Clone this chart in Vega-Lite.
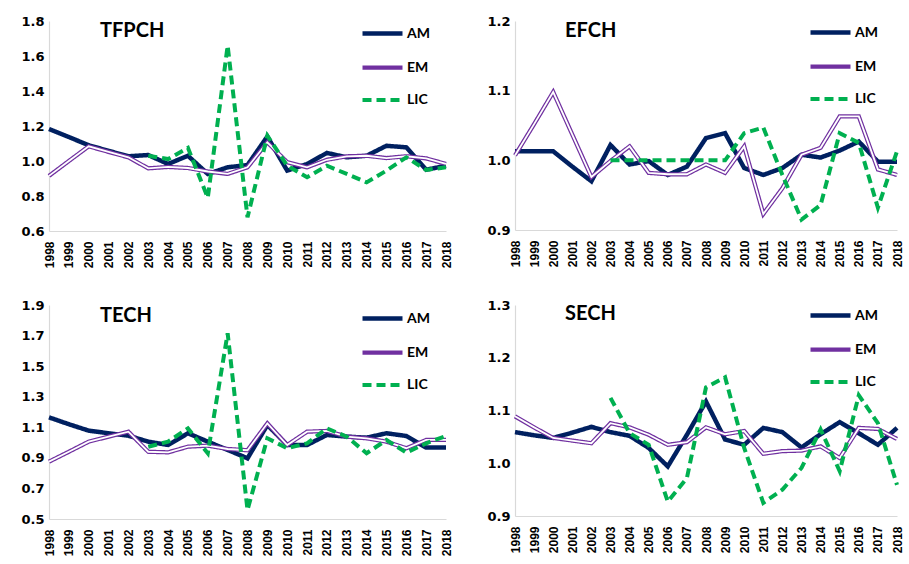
{
  "$schema": "https://vega.github.io/schema/vega-lite/v6.json",
  "padding": {"left": 20, "top": 10, "right": 5, "bottom": 5},
  "background": "white",
  "datasets": {
    "tfpch": [
      {"year": "1998", "AM": 1.183, "EM": 0.915, "LIC": null},
      {"year": "1999", "AM": 1.137, "EM": 1.0, "LIC": null},
      {"year": "2000", "AM": 1.09, "EM": 1.084, "LIC": null},
      {"year": "2001", "AM": 1.058, "EM": 1.052, "LIC": null},
      {"year": "2002", "AM": 1.027, "EM": 1.021, "LIC": null},
      {"year": "2003", "AM": 1.034, "EM": 0.958, "LIC": 1.03},
      {"year": "2004", "AM": 0.983, "EM": 0.966, "LIC": 1.011},
      {"year": "2005", "AM": 1.03, "EM": 0.96, "LIC": 1.075},
      {"year": "2006", "AM": 0.926, "EM": 0.94, "LIC": 0.79},
      {"year": "2007", "AM": 0.964, "EM": 0.926, "LIC": 1.659},
      {"year": "2008", "AM": 0.977, "EM": 0.964, "LIC": 0.678},
      {"year": "2009", "AM": 1.14, "EM": 1.107, "LIC": 1.145},
      {"year": "2010", "AM": 0.945, "EM": 0.993, "LIC": 0.973},
      {"year": "2011", "AM": 0.983, "EM": 0.964, "LIC": 0.907},
      {"year": "2012", "AM": 1.046, "EM": 1.007, "LIC": 0.973},
      {"year": "2013", "AM": 1.021, "EM": 1.027, "LIC": 0.926},
      {"year": "2014", "AM": 1.03, "EM": 1.03, "LIC": 0.878},
      {"year": "2015", "AM": 1.087, "EM": 1.017, "LIC": 0.945},
      {"year": "2016", "AM": 1.078, "EM": 1.027, "LIC": 1.021},
      {"year": "2017", "AM": 0.95, "EM": 1.015, "LIC": 0.949},
      {"year": "2018", "AM": 0.973, "EM": 0.983, "LIC": 0.964}
    ],
    "efch": [
      {"year": "1998", "AM": 1.013, "EM": 1.007, "LIC": null},
      {"year": "1999", "AM": 1.013, "EM": 1.052, "LIC": null},
      {"year": "2000", "AM": 1.013, "EM": 1.098, "LIC": null},
      {"year": "2001", "AM": 0.991, "EM": 1.037, "LIC": null},
      {"year": "2002", "AM": 0.97, "EM": 0.976, "LIC": null},
      {"year": "2003", "AM": 1.022, "EM": 0.999, "LIC": 1.0},
      {"year": "2004", "AM": 0.994, "EM": 1.02, "LIC": 1.0},
      {"year": "2005", "AM": 0.999, "EM": 0.982, "LIC": 1.0},
      {"year": "2006", "AM": 0.979, "EM": 0.98, "LIC": 1.0},
      {"year": "2007", "AM": 0.991, "EM": 0.98, "LIC": 1.0},
      {"year": "2008", "AM": 1.032, "EM": 0.994, "LIC": 1.0},
      {"year": "2009", "AM": 1.039, "EM": 0.982, "LIC": 1.0},
      {"year": "2010", "AM": 0.989, "EM": 1.02, "LIC": 1.039},
      {"year": "2011", "AM": 0.979, "EM": 0.923, "LIC": 1.047},
      {"year": "2012", "AM": 0.989, "EM": 0.96, "LIC": 0.979},
      {"year": "2013", "AM": 1.008, "EM": 1.008, "LIC": 0.915},
      {"year": "2014", "AM": 1.004, "EM": 1.018, "LIC": 0.936},
      {"year": "2015", "AM": 1.014, "EM": 1.063, "LIC": 1.039},
      {"year": "2016", "AM": 1.027, "EM": 1.063, "LIC": 1.025},
      {"year": "2017", "AM": 0.998, "EM": 0.987, "LIC": 0.932},
      {"year": "2018", "AM": 0.998, "EM": 0.979, "LIC": 1.013}
    ],
    "tech": [
      {"year": "1998", "AM": 1.165, "EM": 0.875, "LIC": null},
      {"year": "1999", "AM": 1.12, "EM": 0.94, "LIC": null},
      {"year": "2000", "AM": 1.078, "EM": 1.006, "LIC": null},
      {"year": "2001", "AM": 1.061, "EM": 1.039, "LIC": null},
      {"year": "2002", "AM": 1.045, "EM": 1.071, "LIC": null},
      {"year": "2003", "AM": 1.006, "EM": 0.94, "LIC": 0.973},
      {"year": "2004", "AM": 0.984, "EM": 0.936, "LIC": 1.006},
      {"year": "2005", "AM": 1.061, "EM": 0.973, "LIC": 1.093},
      {"year": "2006", "AM": 1.006, "EM": 0.98, "LIC": 0.93},
      {"year": "2007", "AM": 0.952, "EM": 0.958, "LIC": 1.715},
      {"year": "2008", "AM": 0.897, "EM": 0.95, "LIC": 0.559},
      {"year": "2009", "AM": 1.115, "EM": 1.126, "LIC": 1.028},
      {"year": "2010", "AM": 0.984, "EM": 0.984, "LIC": 0.963},
      {"year": "2011", "AM": 0.984, "EM": 1.071, "LIC": 0.995},
      {"year": "2012", "AM": 1.05, "EM": 1.076, "LIC": 1.093},
      {"year": "2013", "AM": 1.039, "EM": 1.039, "LIC": 1.039},
      {"year": "2014", "AM": 1.032, "EM": 1.028, "LIC": 0.93},
      {"year": "2015", "AM": 1.061, "EM": 1.006, "LIC": 1.017},
      {"year": "2016", "AM": 1.043, "EM": 0.963, "LIC": 0.934},
      {"year": "2017", "AM": 0.967, "EM": 1.017, "LIC": 0.995},
      {"year": "2018", "AM": 0.967, "EM": 1.017, "LIC": 1.043}
    ],
    "sech": [
      {"year": "1998", "AM": 1.059, "EM": 1.089, "LIC": null},
      {"year": "1999", "AM": 1.053, "EM": 1.068, "LIC": null},
      {"year": "2000", "AM": 1.048, "EM": 1.048, "LIC": null},
      {"year": "2001", "AM": 1.058, "EM": 1.043, "LIC": null},
      {"year": "2002", "AM": 1.069, "EM": 1.038, "LIC": null},
      {"year": "2003", "AM": 1.059, "EM": 1.076, "LIC": 1.124},
      {"year": "2004", "AM": 1.052, "EM": 1.068, "LIC": 1.057},
      {"year": "2005", "AM": 1.029, "EM": 1.054, "LIC": 1.035},
      {"year": "2006", "AM": 0.994, "EM": 1.035, "LIC": 0.927},
      {"year": "2007", "AM": 1.054, "EM": 1.04, "LIC": 0.972},
      {"year": "2008", "AM": 1.117, "EM": 1.068, "LIC": 1.144},
      {"year": "2009", "AM": 1.045, "EM": 1.055, "LIC": 1.163},
      {"year": "2010", "AM": 1.035, "EM": 1.061, "LIC": 1.029},
      {"year": "2011", "AM": 1.067, "EM": 1.018, "LIC": 0.925},
      {"year": "2012", "AM": 1.059, "EM": 1.023, "LIC": 0.95},
      {"year": "2013", "AM": 1.03, "EM": 1.024, "LIC": 0.991},
      {"year": "2014", "AM": 1.055, "EM": 1.032, "LIC": 1.064},
      {"year": "2015", "AM": 1.078, "EM": 1.01, "LIC": 0.985},
      {"year": "2016", "AM": 1.057, "EM": 1.067, "LIC": 1.129},
      {"year": "2017", "AM": 1.035, "EM": 1.065, "LIC": 1.076},
      {"year": "2018", "AM": 1.067, "EM": 1.046, "LIC": 0.959}
    ]
  },
  "columns": 2,
  "spacing": {"row": 25, "column": 31},
  "resolve": {
    "scale": {"color": "independent", "strokeDash": "independent", "strokeWidth": "independent"},
    "legend": {"color": "independent", "strokeDash": "independent", "strokeWidth": "independent"}
  },
  "concat": [
    {
      "width": 397, "height": 210,
      "data": {"name": "tfpch"},
      "transform": [{"fold": ["AM", "EM", "LIC"], "as": ["series", "value"]}],
      "title": {"text": "TFPCH", "dx": 51, "offset": -30},
      "encoding": {
        "x": {"field": "year", "type": "ordinal", "scale": {"type": "point", "padding": 0}},
        "y": {"field": "value", "type": "quantitative", "scale": {"domain": [0.6, 1.8], "nice": false, "zero": false},
              "axis": {"values": [0.6, 0.8, 1.0, 1.2, 1.4, 1.6, 1.8], "format": ".1f"}}
      },
      "layer": [
        {"transform": [{"filter": "datum.series !== 'LIC'"}], "mark": {"type": "line"},
         "encoding": {
           "color": {"field": "series", "type": "nominal", "scale": {"domain": ["AM", "EM", "LIC"], "range": ["#002060", "#7030A0", "#00B050"]},
                     "legend": {"orient": "none", "legendX": 311, "legendY": -10}},
           "strokeDash": {"field": "series", "type": "nominal", "scale": {"domain": ["AM", "EM", "LIC"], "range": [[1, 0], [1, 0], [9, 5]]}},
           "strokeWidth": {"field": "series", "type": "nominal", "scale": {"domain": ["AM", "EM", "LIC"], "range": [4.5, 4, 4.5]}}
         }},
        {"transform": [{"filter": "datum.series === 'EM'"}], "mark": {"type": "line", "color": "white", "strokeWidth": 1.8}, "encoding": {}},
        {"transform": [{"filter": "datum.series === 'LIC'"}], "mark": {"type": "line"},
         "encoding": {
           "color": {"field": "series", "type": "nominal"},
           "strokeDash": {"field": "series", "type": "nominal"},
           "strokeWidth": {"field": "series", "type": "nominal"}
         }}
      ]
    },
    {
      "width": 382, "height": 209,
      "data": {"name": "efch"},
      "transform": [{"fold": ["AM", "EM", "LIC"], "as": ["series", "value"]}],
      "title": {"text": "EFCH", "dx": 50, "offset": -31},
      "encoding": {
        "x": {"field": "year", "type": "ordinal", "scale": {"type": "point", "padding": 0}},
        "y": {"field": "value", "type": "quantitative", "scale": {"domain": [0.9, 1.2], "nice": false, "zero": false},
              "axis": {"values": [0.9, 1.0, 1.1, 1.2], "format": ".1f"}}
      },
      "layer": [
        {"transform": [{"filter": "datum.series !== 'LIC'"}], "mark": {"type": "line"},
         "encoding": {
           "color": {"field": "series", "type": "nominal", "scale": {"domain": ["AM", "EM", "LIC"], "range": ["#002060", "#7030A0", "#00B050"]},
                     "legend": {"orient": "none", "legendX": 293, "legendY": -11}},
           "strokeDash": {"field": "series", "type": "nominal", "scale": {"domain": ["AM", "EM", "LIC"], "range": [[1, 0], [1, 0], [9, 5]]}},
           "strokeWidth": {"field": "series", "type": "nominal", "scale": {"domain": ["AM", "EM", "LIC"], "range": [4.5, 4, 4.5]}}
         }},
        {"transform": [{"filter": "datum.series === 'EM'"}], "mark": {"type": "line", "color": "white", "strokeWidth": 1.8}, "encoding": {}},
        {"transform": [{"filter": "datum.series === 'LIC'"}], "mark": {"type": "line"},
         "encoding": {
           "color": {"field": "series", "type": "nominal"},
           "strokeDash": {"field": "series", "type": "nominal"},
           "strokeWidth": {"field": "series", "type": "nominal"}
         }}
      ]
    },
    {
      "width": 397, "height": 214,
      "data": {"name": "tech"},
      "transform": [{"fold": ["AM", "EM", "LIC"], "as": ["series", "value"]}],
      "title": {"text": "TECH", "dx": 51, "offset": -30},
      "encoding": {
        "x": {"field": "year", "type": "ordinal", "scale": {"type": "point", "padding": 0}},
        "y": {"field": "value", "type": "quantitative", "scale": {"domain": [0.5, 1.9], "nice": false, "zero": false},
              "axis": {"values": [0.5, 0.7, 0.9, 1.1, 1.3, 1.5, 1.7, 1.9], "format": ".1f"}}
      },
      "layer": [
        {"transform": [{"filter": "datum.series !== 'LIC'"}], "mark": {"type": "line"},
         "encoding": {
           "color": {"field": "series", "type": "nominal", "scale": {"domain": ["AM", "EM", "LIC"], "range": ["#002060", "#7030A0", "#00B050"]},
                     "legend": {"orient": "none", "legendX": 311, "legendY": -9}},
           "strokeDash": {"field": "series", "type": "nominal", "scale": {"domain": ["AM", "EM", "LIC"], "range": [[1, 0], [1, 0], [9, 5]]}},
           "strokeWidth": {"field": "series", "type": "nominal", "scale": {"domain": ["AM", "EM", "LIC"], "range": [4.5, 4, 4.5]}}
         }},
        {"transform": [{"filter": "datum.series === 'EM'"}], "mark": {"type": "line", "color": "white", "strokeWidth": 1.8}, "encoding": {}},
        {"transform": [{"filter": "datum.series === 'LIC'"}], "mark": {"type": "line"},
         "encoding": {
           "color": {"field": "series", "type": "nominal"},
           "strokeDash": {"field": "series", "type": "nominal"},
           "strokeWidth": {"field": "series", "type": "nominal"}
         }}
      ]
    },
    {
      "width": 382, "height": 211,
      "data": {"name": "sech"},
      "transform": [{"fold": ["AM", "EM", "LIC"], "as": ["series", "value"]}],
      "title": {"text": "SECH", "dx": 50, "offset": -31},
      "encoding": {
        "x": {"field": "year", "type": "ordinal", "scale": {"type": "point", "padding": 0}},
        "y": {"field": "value", "type": "quantitative", "scale": {"domain": [0.9, 1.3], "nice": false, "zero": false},
              "axis": {"values": [0.9, 1.0, 1.1, 1.2, 1.3], "format": ".1f"}}
      },
      "layer": [
        {"transform": [{"filter": "datum.series !== 'LIC'"}], "mark": {"type": "line"},
         "encoding": {
           "color": {"field": "series", "type": "nominal", "scale": {"domain": ["AM", "EM", "LIC"], "range": ["#002060", "#7030A0", "#00B050"]},
                     "legend": {"orient": "none", "legendX": 293, "legendY": -12}},
           "strokeDash": {"field": "series", "type": "nominal", "scale": {"domain": ["AM", "EM", "LIC"], "range": [[1, 0], [1, 0], [9, 5]]}},
           "strokeWidth": {"field": "series", "type": "nominal", "scale": {"domain": ["AM", "EM", "LIC"], "range": [4.5, 4, 4.5]}}
         }},
        {"transform": [{"filter": "datum.series === 'EM'"}], "mark": {"type": "line", "color": "white", "strokeWidth": 1.8}, "encoding": {}},
        {"transform": [{"filter": "datum.series === 'LIC'"}], "mark": {"type": "line"},
         "encoding": {
           "color": {"field": "series", "type": "nominal"},
           "strokeDash": {"field": "series", "type": "nominal"},
           "strokeWidth": {"field": "series", "type": "nominal"}
         }}
      ]
    }
  ],
  "config": {
    "view": {"stroke": null},
    "axis": {"grid": false, "ticks": false, "domainColor": "#d9d9d9", "domainWidth": 1.2, "labelColor": "#000000", "labelFontWeight": "bold", "title": null},
    "axisX": {"labelAngle": -90, "labelFont": "Liberation Sans Narrow, Liberation Sans", "labelFontSize": 12, "labelPadding": 10},
    "axisY": {"labelFont": "DejaVu Sans", "labelFontSize": 13, "labelPadding": 5},
    "title": {"anchor": "start", "frame": "group", "orient": "top", "font": "Lato", "fontSize": 20, "fontWeight": "bold", "color": "#000000", "baseline": "bottom"},
    "legend": {"title": null, "symbolType": "stroke", "symbolSize": 1600, "labelFont": "Lato", "labelFontSize": 14, "labelFontWeight": "bold", "labelColor": "#000000", "labelOffset": 2, "rowPadding": 2, "padding": 0}
  }
}
